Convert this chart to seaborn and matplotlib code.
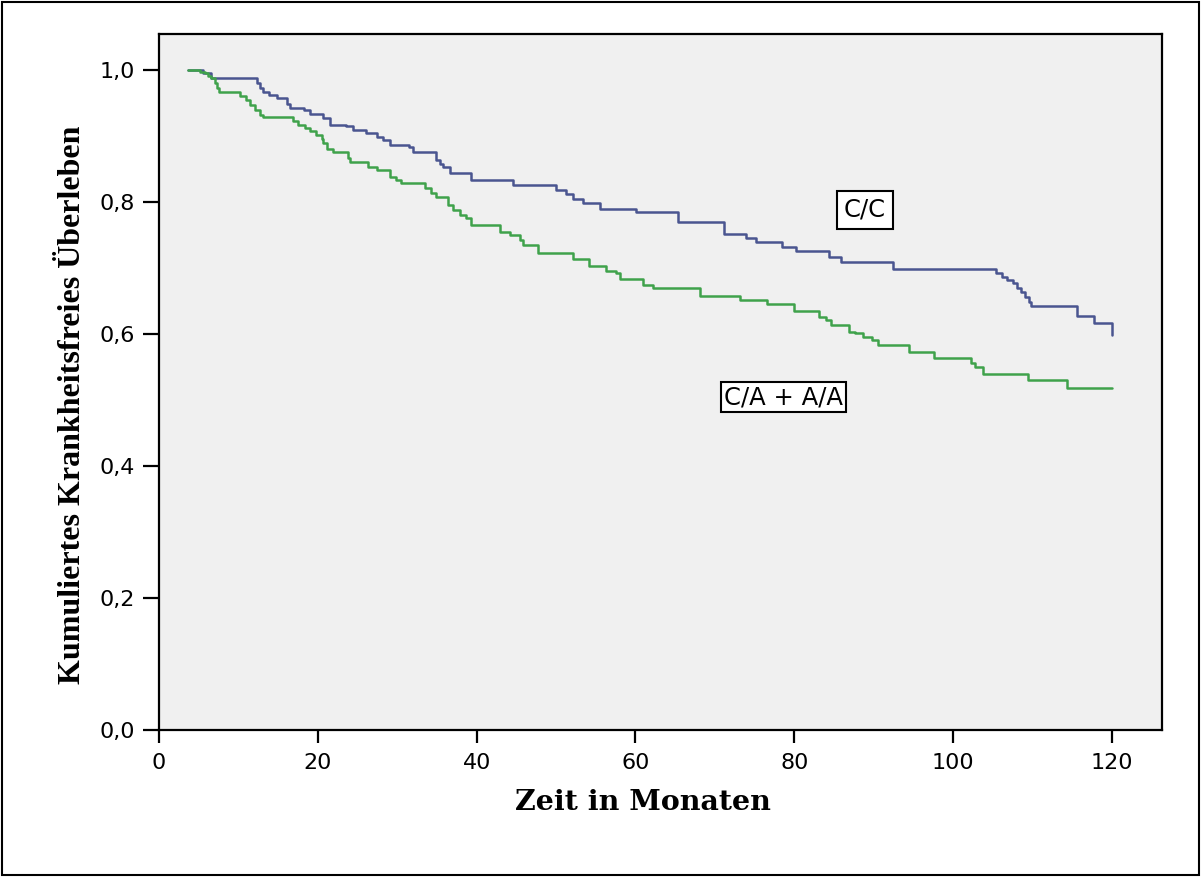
import matplotlib
matplotlib.use("Agg")
import matplotlib.pyplot as plt
from matplotlib.patches import Rectangle
import seaborn as sns
import pandas as pd

# ---- data ----
cc_time = [3.6, 5.5, 6.5, 12.3, 12.7, 13.1, 13.8, 14.8, 16.1, 16.5, 18.2, 19.0, 20.6, 21.5,
           23.6, 24.4, 26.1, 27.4, 28.2, 29.1, 31.5, 32.0, 34.9, 35.4, 35.8, 36.6, 39.3,
           44.6, 50.0, 51.3, 52.1, 53.4, 55.5, 60.1, 65.3, 71.2, 73.9, 75.2, 78.5, 80.2,
           84.4, 85.9, 92.4, 105.4, 106.2, 106.8, 107.5, 108.1, 108.5, 109.1, 109.6,
           109.8, 115.6, 117.7, 120.0]
cc_surv = [1.0, .995, .988, .980, .973, .967, .962, .957, .949, .942, .939, .934, .927, .917,
           .915, .909, .904, .899, .894, .887, .884, .876, .864, .858, .853, .844, .833,
           .826, .818, .812, .805, .798, .789, .785, .770, .752, .745, .740, .732, .726,
           .717, .709, .699, .692, .687, .682, .677, .669, .664, .656, .649,
           .642, .627, .616, .598]

ca_time = [3.6, 5.2, 5.8, 6.2, 6.6, 7.0, 7.3, 7.5, 10.2, 11.0, 11.4, 12.1, 12.7, 13.1,
           16.9, 17.5, 18.4, 19.0, 19.8, 20.5, 20.7, 21.1, 21.9, 23.8, 24.0, 26.3, 27.4,
           29.1, 29.9, 30.5, 33.5, 34.3, 34.9, 36.4, 37.0, 37.9, 38.7, 39.3, 42.9, 44.2,
           45.4, 45.8, 47.7, 52.1, 54.2, 56.3, 57.6, 58.0, 60.9, 62.2, 68.1, 73.1, 76.6,
           80.0, 83.1, 84.0, 84.6, 86.9, 87.7, 88.6, 89.8, 90.5, 94.5, 97.6, 102.2,
           102.8, 103.7, 109.4, 114.4, 120.0]
ca_surv = [1.0, .997, .995, .991, .988, .980, .972, .967, .960, .955, .947, .939, .932, .928,
           .922, .917, .912, .908, .902, .896, .889, .881, .876, .866, .860, .853, .848,
           .838, .833, .828, .821, .813, .807, .795, .788, .780, .775, .765, .755, .750,
           .742, .735, .722, .713, .703, .696, .692, .683, .674, .669, .658, .652, .645,
           .635, .625, .621, .614, .603, .601, .596, .591, .583, .573, .564, .556,
           .550, .539, .530, .518, .518]

groups = ["C/C", "C/A + A/A"]
x_ticks = [0, 20, 40, 60, 80, 100, 120]
y_ticks = [0.0, 0.2, 0.4, 0.6, 0.8, 1.0]
y_tick_labels = ["0,0", "0,2", "0,4", "0,6", "0,8", "1,0"]
x_label = "Zeit in Monaten"
y_label = "Kumuliertes Krankheitsfreies Überleben"

df = pd.concat([
    pd.DataFrame({"t": cc_time, "s": cc_surv, "g": groups[0]}),
    pd.DataFrame({"t": ca_time, "s": ca_surv, "g": groups[1]}),
])

sns.set_style("white")
plt.rcParams["font.family"] = ["DejaVu Sans"]
plt.rcParams["text.color"] = "black"
plt.rcParams["xtick.color"] = "black"
plt.rcParams["ytick.color"] = "black"

fig = plt.figure(figsize=(12.01, 8.77), dpi=100)
ax = fig.add_axes([159 / 1201, 1 - 730 / 877, (1162 - 159) / 1201, (730 - 34) / 877])
ax.set_facecolor("#F0F0F0")

palette = {groups[0]: "#4A5590", groups[1]: "#3FA24B"}
sns.lineplot(data=df, x="t", y="s", hue="g", palette=palette, estimator=None,
             drawstyle="steps-post", linewidth=1.8, legend=False, ax=ax, sort=False)

ax.set_xlim(0, 126.3)
ax.set_ylim(0, 1.0545)
ax.set_xticks(x_ticks)
ax.set_xticklabels([str(v) for v in x_ticks])
ax.set_yticks(y_ticks)
ax.set_yticklabels(y_tick_labels)
ax.tick_params(axis="both", which="major", direction="out", labelsize=16,
               colors="black", labelcolor="black", width=1.6)
ax.tick_params(axis="x", length=9.5, pad=7, bottom=True)
ax.tick_params(axis="y", length=11.5, pad=6, left=True)
for sp in ax.spines.values():
    sp.set_visible(True)
    sp.set_color("black")
    sp.set_linewidth(1.6)

ax.set_xlabel("")
ax.set_ylabel("")
fig.text(643 / 1201, 1 - 802 / 877, x_label, ha="center", va="center", color="black",
         family=["DejaVu Serif"], fontweight="bold", fontsize=20.5)
fig.text(73 / 1201, 1 - 405 / 877, y_label, ha="center", va="center", rotation=90,
         color="black", family=["Liberation Serif"], fontweight="bold", fontsize=23)

box = dict(boxstyle="square,pad=0.3", fc="white", ec="black", lw=1.5)
ax.text(88.9, 0.788, groups[0], ha="center", va="center", fontsize=17.5,
        color="black", bbox=box)
box2 = dict(boxstyle="square,pad=0.12", fc="white", ec="black", lw=1.5)
ax.text(78.6, 0.504, groups[1], ha="center", va="center", fontsize=17.5,
        color="black", bbox=box2)

fig.patches.append(Rectangle((0.0015, 0.002), 0.997, 0.996, transform=fig.transFigure,
                             fill=False, ec="black", lw=1.5))

fig.savefig("out.png", dpi=100)
